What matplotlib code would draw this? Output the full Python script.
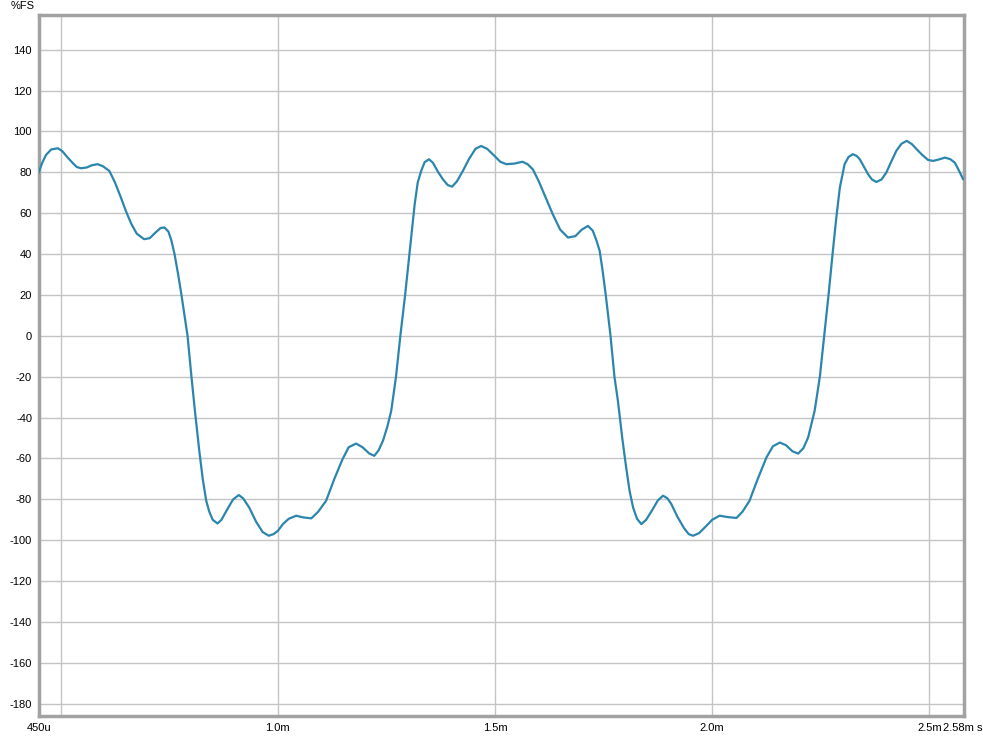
import numpy as np
import matplotlib
matplotlib.use("Agg")
import matplotlib.pyplot as plt
import matplotlib.transforms as mtransforms

plt.rcParams['font.family'] = ['Liberation Sans', 'DejaVu Sans']

# time in ms, level in %FS
t_ms = [0.448, 0.457, 0.466, 0.478, 0.493, 0.503, 0.515, 0.527, 0.537, 0.547,
        0.560, 0.572, 0.585, 0.597, 0.612, 0.625, 0.638, 0.650, 0.662, 0.675,
        0.692, 0.705, 0.718, 0.730, 0.739, 0.748, 0.755, 0.762, 0.770, 0.778,
        0.792,
        0.801, 0.809, 0.819, 0.827, 0.835, 0.842, 0.850, 0.861, 0.870, 0.884,
        0.897, 0.910, 0.920, 0.934, 0.950, 0.965, 0.979, 0.990, 1.000, 1.012,
        1.025, 1.042, 1.058, 1.077, 1.093, 1.111, 1.130, 1.149, 1.163, 1.180,
        1.195, 1.210, 1.222, 1.232, 1.242, 1.252, 1.261, 1.272, 1.282, 1.293,
        1.303, 1.315, 1.322, 1.330, 1.338, 1.348, 1.357, 1.368, 1.380, 1.391,
        1.401, 1.412, 1.426, 1.440, 1.455, 1.468, 1.482, 1.499, 1.512, 1.526,
        1.545, 1.563, 1.575, 1.587, 1.600, 1.617, 1.633, 1.650, 1.668, 1.685,
        1.700, 1.714, 1.725, 1.733, 1.741, 1.748, 1.755, 1.766, 1.775, 1.783,
        1.793,
        1.802, 1.810, 1.818, 1.827, 1.837, 1.848, 1.861, 1.875, 1.887, 1.897,
        1.906, 1.920, 1.935, 1.946, 1.956, 1.970, 1.987, 2.000, 2.017, 2.037,
        2.056, 2.070, 2.086, 2.105, 2.125, 2.140, 2.156, 2.170, 2.185, 2.198,
        2.210, 2.221, 2.236, 2.248, 2.258, 2.268, 2.278, 2.286, 2.294, 2.305,
        2.314, 2.324, 2.333, 2.340, 2.350, 2.359, 2.368, 2.378, 2.390, 2.401,
        2.413, 2.424, 2.436, 2.448, 2.460, 2.471, 2.484, 2.497, 2.509, 2.522,
        2.536, 2.548, 2.559, 2.568, 2.578]
level = [79.2, 84.5, 88.5, 91.2, 91.8, 90.5, 87.5, 84.7, 82.6, 82.0,
         82.4, 83.5, 84.0, 83.0, 80.7, 75.0, 68.0, 61.1, 55.0, 50.0,
         47.3, 47.8, 50.5, 52.8, 53.0, 51.0, 46.5, 40.0, 30.5, 20.0,
         0.0,
         -20.0, -36.7, -56.2, -70.0, -80.7, -86.0, -90.0, -91.8, -90.0, -84.7,
         -80.0, -77.9, -79.5, -84.0, -91.0, -96.0, -97.8, -97.0, -95.4, -92.0,
         -89.5, -88.0, -88.8, -89.3, -86.0, -80.7, -70.0, -60.3, -54.5, -52.7,
         -54.5, -57.5, -58.7, -56.0, -51.3, -44.5, -36.7, -20.0, 0.0, 20.0,
         40.0, 64.4, 75.0, 80.7, 85.0, 86.4, 84.7, 80.5, 76.6, 73.8,
         73.0, 75.5, 80.7, 86.5, 91.5, 92.9, 91.5, 88.0, 85.2, 84.0,
         84.3, 85.2, 84.0, 81.5, 76.0, 67.5, 59.5, 52.0, 48.1, 48.8,
         52.0, 53.8, 51.5, 47.0, 41.6, 31.5, 20.0, 0.0, -20.0, -31.8,
         -50.0,
         -64.4, -76.0, -84.0, -89.5, -92.1, -90.0, -85.6, -80.5, -78.2, -79.5,
         -82.3, -88.5, -94.0, -97.0, -97.8, -96.5, -92.9, -90.0, -88.0, -88.7,
         -89.1, -86.0, -80.7, -70.0, -59.5, -54.0, -52.2, -53.5, -56.5, -57.6,
         -55.0, -49.7, -36.7, -20.0, 0.0, 20.0, 41.6, 58.0, 72.5, 84.0,
         87.5, 88.9, 88.0, 86.4, 82.5, 79.1, 76.5, 75.3, 76.5, 79.9,
         85.5, 90.5, 94.0, 95.4, 93.8, 91.3, 88.5, 86.1, 85.6, 86.3,
         87.2, 86.5, 84.7, 81.0, 76.6]

grid_x = [0.5, 1.0, 1.5, 2.0, 2.5]
grid_x_labels = ['', '1.0m', '1.5m', '2.0m', '2.5m']
edge_x = [0.45, 2.58]
edge_x_labels = ['450u', '2.58m s']
y_ticks = list(range(-180, 141, 20))

fig = plt.figure(figsize=(9.83, 7.38), dpi=100)
ax = fig.add_axes([0.0397, 0.0298, 0.9410, 0.9499])

ax.plot(t_ms, level, color='#2b86ad', linewidth=1.6,
        solid_joinstyle='round', solid_capstyle='round', zorder=3)

ax.set_xlim(0.45, 2.58)
ax.set_ylim(-186, 157)

ax.set_xticks(grid_x, labels=grid_x_labels)
ax.set_xticks(edge_x, labels=edge_x_labels, minor=True)
ax.set_yticks(y_ticks, labels=[str(v) for v in y_ticks])

ax.grid(which='major', color='#c4c4c4', linewidth=1.0, zorder=1)
ax.grid(which='minor', visible=False)
ax.tick_params(which='both', length=0, labelsize=8, pad=5, colors='black')

# right-edge label sits flush with the figure's right side
shift = mtransforms.ScaledTranslation(18 / 100, 0, fig.dpi_scale_trans)
for lab in ax.get_xticklabels(minor=True)[1:]:
    lab.set_horizontalalignment('right')
    lab.set_transform(lab.get_transform() + shift)

for sp in ax.spines.values():
    sp.set_color('#a2a2a2')
    sp.set_linewidth(2.5)

fig.text(35 / 983, 1 - 6 / 738, '%FS', ha='right', va='center', fontsize=8)

fig.savefig('out.png', dpi=100)
